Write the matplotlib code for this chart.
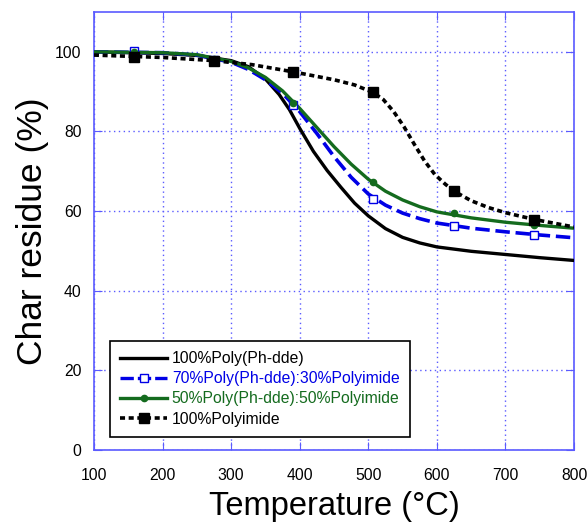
#!/usr/bin/env python3
# -*- coding: utf-8 -*-

"""Char residue vs temperature for Poly(Ph-dde)/Polyimide blends."""

import matplotlib
matplotlib.use("Agg")
import matplotlib.pyplot as plt

plt.rcParams["font.family"] = ["Liberation Sans", "DejaVu Sans"]

# line data (temperature in C, char residue in %)
T_PPH = [100, 200, 250, 300, 325, 350, 370, 385, 400, 420, 440, 460, 480, 500,
         525, 550, 575, 600, 650, 700, 750, 800]
R_PPH = [100, 99.6, 99.1, 97.8, 96.3, 93.2, 89.3, 85.5, 80.8, 75.0, 70.2, 66.0,
         62.0, 58.8, 55.6, 53.4, 52.0, 51.0, 49.9, 49.1, 48.3, 47.6]

T_70 = [100, 200, 250, 300, 325, 350, 375, 400, 425, 450, 475, 500, 525, 550,
        575, 600, 650, 700, 750, 800]
R_70 = [100, 99.8, 99.2, 97.4, 95.6, 93.0, 89.6, 85.0, 79.5, 73.7, 68.5, 64.3,
        61.5, 59.5, 58.1, 57.0, 55.7, 54.8, 54.0, 53.3]

T_50 = [100, 200, 250, 300, 325, 350, 375, 400, 425, 450, 475, 500, 525, 550,
        575, 600, 650, 700, 750, 800]
R_50 = [100, 99.8, 99.3, 97.6, 96.0, 93.6, 90.2, 85.8, 81.0, 76.2, 71.8, 68.0,
        65.0, 62.8, 61.1, 59.8, 58.3, 57.2, 56.4, 55.7]

T_PI = [100, 200, 275, 330, 390, 450, 480, 507, 522, 537, 552, 567, 582, 597,
        612, 625, 650, 675, 700, 742, 800]
R_PI = [99.2, 98.6, 97.8, 96.8, 95.0, 93.0, 91.7, 89.8, 88.0, 85.0, 81.2, 76.8,
        72.6, 69.2, 66.8, 65.0, 62.6, 60.9, 59.6, 57.9, 56.0]

# marker positions
MT = [158, 275, 390, 507, 625, 742]
M_70 = [100.3, 97.9, 86.7, 63.0, 56.2, 54.0]
M_50 = [99.9, 98.1, 87.2, 67.2, 59.5, 56.6]
M_PI = [98.8, 97.8, 95.0, 89.8, 65.1, 57.8]

LABELS = ["100%Poly(Ph-dde)", "70%Poly(Ph-dde):30%Polyimide",
          "50%Poly(Ph-dde):50%Polyimide", "100%Polyimide"]

BLUE = "#0000e6"
GREEN = "#146b1e"
AXBLUE = "#5a5aff"


def main():
    """Draw the chart."""
    fig = plt.figure(figsize=(5.87, 5.25), dpi=100)
    ax = fig.add_axes([0.16, 0.143, 0.818, 0.834])

    ax.plot(T_PPH, R_PPH, "-", color="black", lw=2.4, zorder=3)
    ax.plot(T_70, R_70, "--", color=BLUE, lw=2.6, dashes=(4, 1.6), zorder=3)
    ax.plot(MT, M_70, "s", color=BLUE, ms=6, mfc="white", mew=1, zorder=4)
    ax.plot(T_50, R_50, "-", color=GREEN, lw=2.4, zorder=3)
    ax.plot(MT, M_50, "o", color=GREEN, ms=4.5, zorder=4)
    ax.plot(T_PI, R_PI, "--", color="black", lw=2.6, dashes=(1.4, 1.0), zorder=3)
    ax.plot(MT, M_PI, "s", color="black", ms=7, zorder=4)

    # legend proxies
    h1, = ax.plot([], [], "-", color="black", lw=2.4)
    h2, = ax.plot([], [], "--", color=BLUE, lw=2.4, dashes=(4, 1.2),
                  marker="s", ms=6, mfc="white", mew=1)
    h3, = ax.plot([], [], "-", color=GREEN, lw=2.4, marker="o", ms=4.5)
    h4, = ax.plot([], [], "--", color="black", lw=2.6, dashes=(1.4, 1.0),
                  marker="s", ms=7)
    leg = ax.legend([h1, h2, h3, h4], LABELS, loc="lower left",
                    bbox_to_anchor=(0.033, 0.03), fontsize=11.3,
                    frameon=True, fancybox=False, edgecolor="black",
                    handlelength=3.0, handletextpad=0.3, labelspacing=0.33,
                    borderpad=0.65, borderaxespad=0, framealpha=1)
    leg.get_frame().set_linewidth(1.2)
    for txt, col in zip(leg.get_texts(), ["black", BLUE, GREEN, "black"]):
        txt.set_color(col)

    ax.set_xlim(100, 800)
    ax.set_ylim(0, 110)
    ax.set_xticks(range(100, 801, 100))
    ax.set_yticks(range(0, 101, 20))
    ax.grid(True, color=AXBLUE, ls=(0, (1, 2.5)), lw=1)
    for sp in ax.spines.values():
        sp.set_color(AXBLUE)
        sp.set_linewidth(1.2)
    ax.tick_params(direction="in", length=6, color=AXBLUE, labelsize=11.3,
                   top=True, right=True)
    ax.tick_params(axis="x", pad=13)
    ax.tick_params(axis="y", pad=9)

    ax.set_xlabel("Temperature (°C)", fontsize=23.5, labelpad=6)
    ax.set_ylabel("Char residue (%)", fontsize=25.5, labelpad=4)

    fig.savefig("out.png", dpi=100)


if __name__ == "__main__":
    main()
